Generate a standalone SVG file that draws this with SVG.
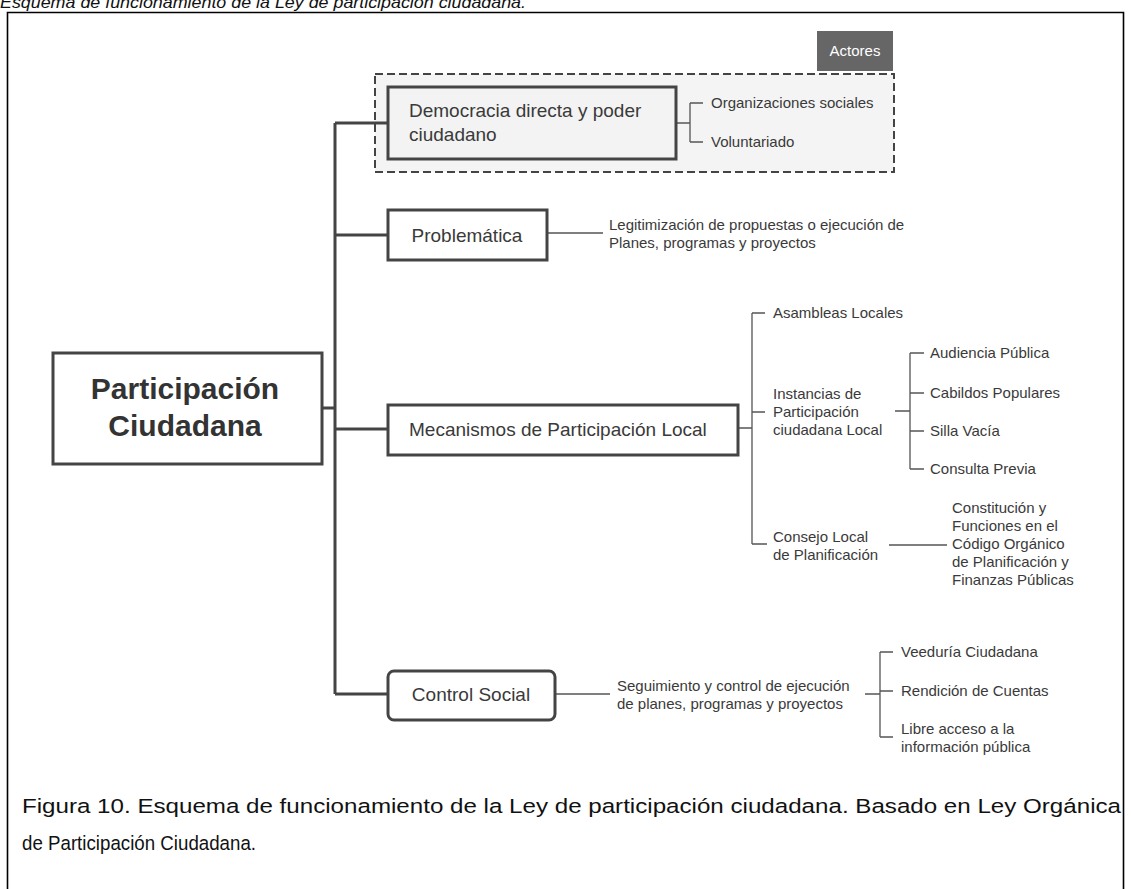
<svg xmlns="http://www.w3.org/2000/svg" width="1131" height="889" viewBox="0 0 1131 889">
<style>
  text { font-family: "Liberation Sans", Arial, sans-serif; fill: #3a3a3a; }
  .node { fill: #ffffff; stroke: #444444; stroke-width: 3; }
  .lbl { font-size: 19px; }
  .small { font-size: 15px; }
  .trunk { fill: none; stroke: #444444; stroke-width: 3; }
  .thin { fill: none; stroke: #555555; stroke-width: 1.3; }
  .caption { font-size: 20.5px; fill: #111111; }
</style>
<rect width="1131" height="889" fill="#ffffff"/>
<text x="0" y="7.5" font-size="17" font-style="italic" style="fill:#111111" textLength="526" lengthAdjust="spacingAndGlyphs">Esquema de funcionamiento de la Ley de participación ciudadana.</text>
<path d="M7.5 900 V12.5 H1123.5 V900" fill="none" stroke="#000000" stroke-width="1.6"/>

<g id="actores-group">
  <rect x="375" y="74" width="519" height="98" fill="#f4f4f4" stroke="#444444" stroke-width="2" stroke-dasharray="8,4"/>
  <rect x="817" y="31" width="76" height="40" fill="#666666"/>
  <text x="855" y="56" font-size="15" text-anchor="middle" style="fill:#ffffff">Actores</text>
</g>

<g id="connectors">
  <path class="trunk" d="M322 408 H335 M335 123 V694 M335 123 H388 M335 235 H388 M335 429 H388 M335 694 H388"/>
  <path class="thin" d="M676 123 H690 M690 103 V142 M690 103 H703 M690 142 H703"/>
  <path class="thin" d="M547 233 H603"/>
  <path class="thin" d="M738 428 H752 M752 313 V544 M752 313 H765 M752 412 H765 M752 544 H767"/>
  <path class="thin" d="M895 411 H910 M910 353 V469 M910 353 H924 M910 393 H924 M910 431 H924 M910 469 H924"/>
  <path class="thin" d="M889 545 H947"/>
  <path class="thin" d="M555 694 H610"/>
  <path class="thin" d="M865 694 H880 M880 652 V737 M880 652 H893 M880 691 H893 M880 737 H893"/>
</g>

<g id="participacion">
  <rect class="node" x="53" y="353" width="269" height="111"/>
  <text x="185" y="399" font-size="30" font-weight="bold" text-anchor="middle" style="fill:#333333">Participación</text>
  <text x="185" y="436" font-size="30" font-weight="bold" text-anchor="middle" style="fill:#333333">Ciudadana</text>
</g>

<g id="democracia">
  <rect class="node" x="388" y="87" width="288" height="72" style="fill:#f3f3f3"/>
  <text class="lbl" x="409" y="117">Democracia directa y poder</text>
  <text class="lbl" x="409" y="141">ciudadano</text>
</g>
<g id="organizaciones"><text class="small" x="711" y="108">Organizaciones sociales</text></g>
<g id="voluntariado"><text class="small" x="711" y="147">Voluntariado</text></g>

<g id="problematica">
  <rect class="node" x="388" y="210" width="159" height="50"/>
  <text class="lbl" x="467" y="242" text-anchor="middle">Problemática</text>
</g>
<g id="legitimizacion">
  <text class="small" x="609" y="230">Legitimización de propuestas o ejecución de</text>
  <text class="small" x="609" y="248">Planes, programas y proyectos</text>
</g>

<g id="mecanismos">
  <rect class="node" x="388" y="405" width="350" height="50"/>
  <text class="lbl" x="409" y="436">Mecanismos de Participación Local</text>
</g>
<g id="asambleas"><text class="small" x="773" y="318">Asambleas Locales</text></g>
<g id="instancias">
  <text class="small" x="773" y="399">Instancias de</text>
  <text class="small" x="773" y="417">Participación</text>
  <text class="small" x="773" y="435">ciudadana Local</text>
</g>
<g id="audiencia"><text class="small" x="930" y="358">Audiencia Pública</text></g>
<g id="cabildos"><text class="small" x="930" y="398">Cabildos Populares</text></g>
<g id="silla"><text class="small" x="930" y="436">Silla Vacía</text></g>
<g id="consulta"><text class="small" x="930" y="474">Consulta Previa</text></g>
<g id="consejo">
  <text class="small" x="773" y="542">Consejo Local</text>
  <text class="small" x="773" y="560">de Planificación</text>
</g>
<g id="constitucion">
  <text class="small" x="952" y="513">Constitución y</text>
  <text class="small" x="952" y="531">Funciones en el</text>
  <text class="small" x="952" y="549">Código Orgánico</text>
  <text class="small" x="952" y="567">de Planificación y</text>
  <text class="small" x="952" y="585">Finanzas Públicas</text>
</g>

<g id="control">
  <rect class="node" x="388" y="671" width="167" height="49" rx="6" ry="6"/>
  <text class="lbl" x="471" y="701" text-anchor="middle">Control Social</text>
</g>
<g id="seguimiento">
  <text class="small" x="617" y="691">Seguimiento y control de ejecución</text>
  <text class="small" x="617" y="709">de planes, programas y proyectos</text>
</g>
<g id="veeduria"><text class="small" x="901" y="657">Veeduría Ciudadana</text></g>
<g id="rendicion"><text class="small" x="901" y="696">Rendición de Cuentas</text></g>
<g id="libre">
  <text class="small" x="901" y="734">Libre acceso a la</text>
  <text class="small" x="901" y="752">información pública</text>
</g>

<g id="caption">
  <text class="caption" x="22" y="813" textLength="1099" lengthAdjust="spacingAndGlyphs">Figura 10. Esquema de funcionamiento de la Ley de participación ciudadana. Basado en Ley Orgánica</text>
  <text class="caption" x="22" y="850" textLength="234" lengthAdjust="spacingAndGlyphs">de Participación Ciudadana.</text>
</g>
</svg>
